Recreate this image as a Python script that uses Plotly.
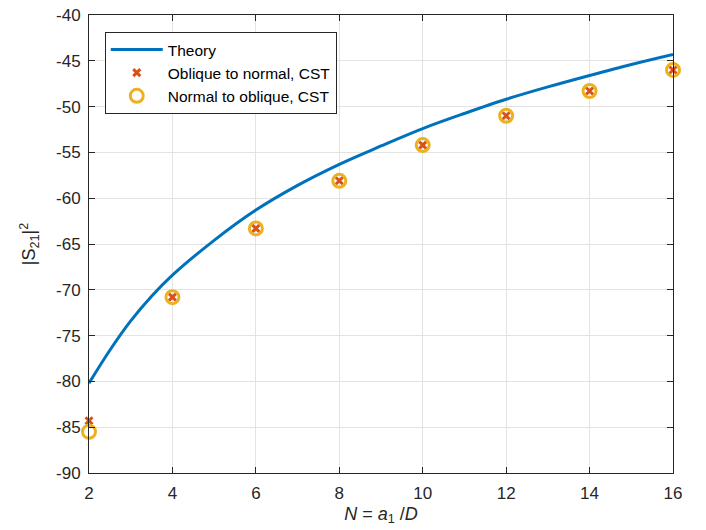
import plotly.graph_objects as go

# Theory curve
theory_x = [2, 2.5, 3, 3.5, 4, 5, 6, 7, 8, 9, 10, 11, 12, 13, 14, 15, 16]
theory_y = [-80.2, -76.6, -73.4, -70.7, -68.4, -64.6, -61.3, -58.6, -56.3, -54.3,
            -52.4, -50.75, -49.2, -47.85, -46.6, -45.4, -44.3]

# CST points
cst_x = [2, 4, 6, 8, 10, 12, 14, 16]
oblique_to_normal = [-84.3, -70.8, -63.3, -58.1, -54.2, -51.0, -48.3, -46.0]
normal_to_oblique = [-85.5, -70.8, -63.3, -58.1, -54.2, -51.0, -48.3, -46.0]

x_ticks = [2, 4, 6, 8, 10, 12, 14, 16]
x_tick_labels = ["2", "4", "6", "8", "10", "12", "14", "16"]
y_ticks = [-90, -85, -80, -75, -70, -65, -60, -55, -50, -45, -40]
y_tick_labels = ["-90", "-85", "-80", "-75", "-70", "-65", "-60", "-55", "-50", "-45", "-40"]

font_family = "Liberation Sans, Arial, sans-serif"

fig = go.Figure()
fig.add_trace(go.Scatter(
    x=theory_x, y=theory_y, mode="lines", name="Theory",
    line=dict(color="#0072BD", width=3, shape="spline", smoothing=1.0),
))
fig.add_trace(go.Scatter(
    x=cst_x, y=oblique_to_normal, mode="markers", name="Oblique to normal, CST",
    cliponaxis=False,
    marker=dict(symbol="x-thin", size=7, color="#D95319",
                line=dict(color="#D95319", width=3)),
))
fig.add_trace(go.Scatter(
    x=cst_x, y=normal_to_oblique, mode="markers", name="Normal to oblique, CST",
    cliponaxis=False,
    marker=dict(symbol="circle-open", size=13, color="#EDB120",
                line=dict(color="#EDB120", width=3)),
))

axis_common = dict(
    showline=True, linecolor="#262626", linewidth=1, mirror="ticks",
    ticks="inside", ticklen=6, tickcolor="#262626",
    showgrid=True, gridcolor="#e3e3e3", gridwidth=1,
    zeroline=False, automargin=False,
    tickfont=dict(family=font_family, size=17, color="#262626"),
)

fig.update_layout(
    width=706, height=530,
    margin=dict(l=89, r=33, t=15, b=57),
    paper_bgcolor="white", plot_bgcolor="white",
    font=dict(family=font_family, color="#262626"),
    xaxis=dict(range=[2, 16], tickvals=x_ticks, ticktext=x_tick_labels,
               ticklabelstandoff=5,
               title=dict(text="<i>N</i> = <i>a</i><sub>1</sub> /<i>D</i>",
                          font=dict(size=18, family=font_family), standoff=4),
               **axis_common),
    yaxis=dict(range=[-90, -40], tickvals=y_ticks, ticktext=y_tick_labels,
               ticklabelstandoff=4,
               title=dict(text="|S<sub>21</sub>|<sup>2</sup>",
                          font=dict(size=18, family=font_family), standoff=15),
               **axis_common),
    legend=dict(x=0.027, y=0.963, xanchor="left", yanchor="top",
                bgcolor="white", bordercolor="#262626", borderwidth=1,
                font=dict(family=font_family, size=15.5, color="#000000"),
                tracegroupgap=0, itemwidth=52),
    showlegend=True,
)

fig.write_html("out.html", config={"displayModeBar": False},
               post_script="document.body.style.margin='0';")
